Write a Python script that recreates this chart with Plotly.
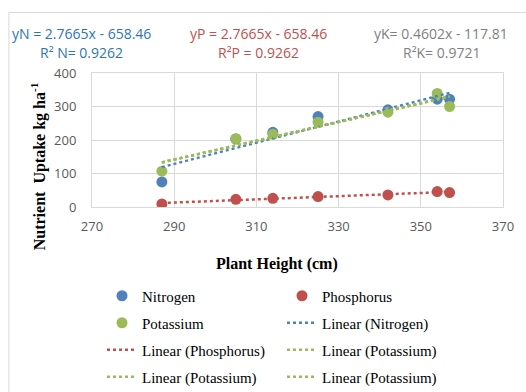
import numpy as np
import plotly.graph_objects as go

# ---- data ----
plant_height = [287, 305, 314, 325, 342, 354, 357]
nitrogen = [75, 203, 223, 270, 290, 322, 322]
phosphorus = [9, 23, 26, 31, 36, 46, 43]
potassium = [107, 204, 217, 253, 283, 339, 300]

x_ticks = [270, 290, 310, 330, 350, 370]
y_ticks = [0, 100, 200, 300, 400]

eq_n = ["yN = 2.7665x - 658.46", "R² N= 0.9262"]
eq_p = ["yP = 2.7665x - 658.46", "R²P = 0.9262"]
eq_k = ["yK= 0.4602x - 117.81", "R²K= 0.9721"]

# ---- geometry ----
W, H = 526, 392
L, R, T, B = 92, 21, 73, 185
PW, PH = W - L - R, H - T - B

def px(xp):
    return (xp - L) / PW

def py(yp):
    return (H - B - yp) / PH

BLUE, RED, GREEN = "#4F81BD", "#C0504D", "#9BBB59"
SERIF = "Liberation Serif"

fig = go.Figure()

def trend(xs, ys):
    a, b = np.polyfit(xs, ys, 1)
    xx = np.array([min(xs), max(xs)])
    return xx, a * xx + b

ms = 11
fig.add_trace(go.Scatter(x=plant_height, y=nitrogen, mode="markers", name="Nitrogen",
                         marker=dict(color=BLUE, size=ms), legend="legend"))
fig.add_trace(go.Scatter(x=plant_height, y=phosphorus, mode="markers", name="Phosphorus",
                         marker=dict(color=RED, size=ms), legend="legend"))
fig.add_trace(go.Scatter(x=plant_height, y=potassium, mode="markers", name="Potassium",
                         marker=dict(color=GREEN, size=ms), legend="legend2"))

tx, ty = trend(plant_height, nitrogen)
fig.add_trace(go.Scatter(x=tx, y=ty, mode="lines", name="Linear (Nitrogen)",
                         line=dict(color=BLUE, width=2.5, dash="dot"), legend="legend2"))
tx, ty = trend(plant_height, phosphorus)
fig.add_trace(go.Scatter(x=tx, y=ty, mode="lines", name="Linear (Phosphorus)",
                         line=dict(color=RED, width=2.5, dash="dot"), legend="legend3"))
tx, ty = trend(plant_height, potassium)
for lg in ["legend3", "legend4", "legend4"]:
    fig.add_trace(go.Scatter(x=tx, y=ty, mode="lines", name="Linear (Potassium)",
                             line=dict(color=GREEN, width=2.5, dash="dot"), legend=lg))

axis_common = dict(showgrid=True, gridcolor="#D9D9D9", gridwidth=1,
                   showline=True, linecolor="#D9D9D9", linewidth=1, mirror=True,
                   zeroline=False, ticks="",
                   tickfont=dict(family="Open Sans, Liberation Sans, sans-serif", size=13, color="#595959"))

fig.update_xaxes(range=[270, 370], tickvals=x_ticks, ticktext=[str(v) for v in x_ticks],
                 ticklabelstandoff=7, **axis_common)
fig.update_yaxes(range=[0, 400], tickvals=y_ticks, ticktext=[str(v) for v in y_ticks],
                 ticklabelstandoff=12, **axis_common)

legend_font = dict(family=SERIF, size=15, color="#000000")
rows_y = [296, 323, 350, 377]
legends = {}
for i, ry in enumerate(rows_y):
    key = "legend" if i == 0 else f"legend{i+1}"
    legends[key] = dict(orientation="h", xref="container", yref="container",
                        x=102 / W, y=1 - ry / H, xanchor="left", yanchor="middle",
                        entrywidth=135, entrywidthmode="pixels", font=legend_font,
                        bgcolor="rgba(0,0,0,0)", borderwidth=0)

annotations = []
eq_font = "Open Sans, Liberation Sans, sans-serif"
for (lines, col, cx) in [(eq_n, "#2E75B6", 81), (eq_p, "#C0504D", 259), (eq_k, "#7F7F7F", 443)]:
    for j, (txt, yy) in enumerate(zip(lines, [34, 52])):
        annotations.append(dict(text=txt, x=px(cx), y=py(yy), xref="paper", yref="paper",
                                showarrow=False, xanchor="center", yanchor="middle",
                                font=dict(family=eq_font, size=14, color=col)))

annotations.append(dict(text="<b>Plant Height (cm)</b>", x=px(277.5), y=py(264), xref="paper", yref="paper",
                        showarrow=False, xanchor="center", yanchor="middle",
                        font=dict(family=SERIF, size=16, color="#000000")))
annotations.append(dict(text="<b>Nutrient  Uptake kg ha<sup>-1</sup></b>", x=px(38), y=py(166),
                        xref="paper", yref="paper", textangle=-90,
                        showarrow=False, xanchor="center", yanchor="middle",
                        font=dict(family=SERIF, size=16, color="#000000")))

shapes = [dict(type="rect", xref="paper", yref="paper",
               x0=px(8.5), x1=px(530), y0=py(396), y1=py(12.5),
               line=dict(color="#D9D9D9", width=1), fillcolor="rgba(0,0,0,0)", layer="below")]

fig.update_layout(width=W, height=H, margin=dict(l=L, r=R, t=T, b=B),
                  font=dict(family=SERIF, color="#000000"),
                  paper_bgcolor="white", plot_bgcolor="white",
                  annotations=annotations, shapes=shapes, showlegend=True, **legends)

fig.write_html("out.html")
